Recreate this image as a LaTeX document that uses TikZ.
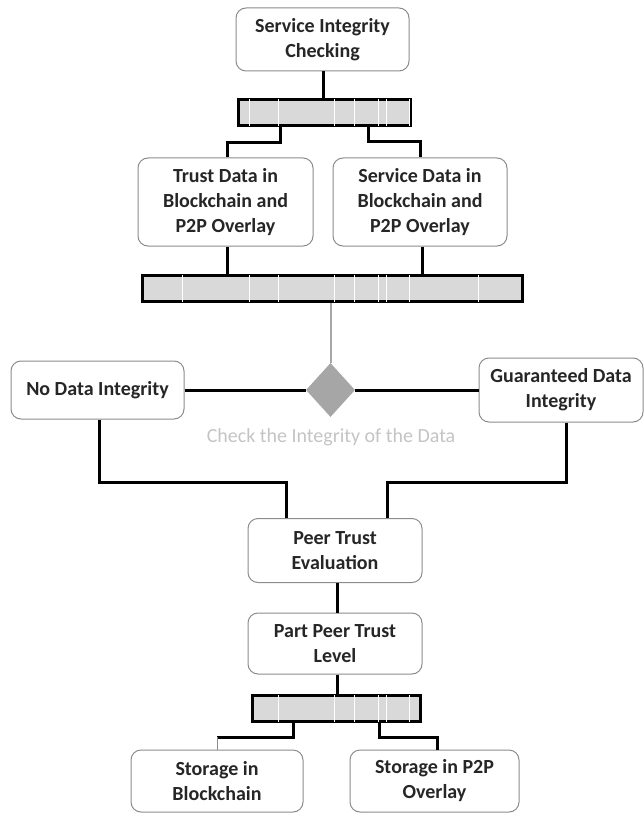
\documentclass[tikz,border=0pt]{standalone}
\usepackage{fontspec}
\setmainfont{Carlito}
\usetikzlibrary{shapes.geometric}
\definecolor{barfill}{HTML}{D9D9D9}
\definecolor{boxline}{HTML}{8C8C8C}
\definecolor{decfill}{HTML}{A6A6A6}
\definecolor{notegray}{HTML}{C4C4C4}

\begin{document}
\begin{tikzpicture}[x=1pt,y=-1pt,
    box/.style={draw=boxline,line width=1pt,rounded corners=10pt,fill=white,
      align=center,inner sep=0pt,text=black!85,font=\fontsize{20}{25}\selectfont\bfseries},
    syncbar/.style={draw=black,line width=3pt,fill=barfill,inner sep=0pt,
      minimum height=26pt},
    link/.style={line width=3pt}]
  \useasboundingbox (0,0) rectangle (644,813);
  % boxes
  \node[box,minimum width=173pt,minimum height=63pt] (check) at (322.5,39.5) {Service Integrity\\Checking};
  \node[box,minimum width=175pt,minimum height=88pt] (trust) at (225.5,202) {Trust Data in\\Blockchain and\\P2P Overlay};
  \node[box,minimum width=174pt,minimum height=88pt] (service) at (420,202) {Service Data in\\Blockchain and\\P2P Overlay};
  \node[box,minimum width=173pt,minimum height=58pt] (nodata) at (97.5,390) {No Data Integrity};
  \node[box,minimum width=164pt,minimum height=64pt] (guar) at (561,390) {Guaranteed Data\\Integrity};
  \node[box,minimum width=174pt,minimum height=64pt] (peer) at (335,550.5) {Peer Trust\\Evaluation};
  \node[box,minimum width=174pt,minimum height=61pt] (part) at (335,643.5) {Part Peer Trust\\Level};
  \node[box,minimum width=172pt,minimum height=62pt] (stblock) at (217,781) {Storage in\\Blockchain};
  \node[box,minimum width=169pt,minimum height=62pt] (stp2p) at (434.5,781) {Storage in P2P\\Overlay};
  % bars
  \node[syncbar,minimum width=172pt] (bar1) at (324.5,112.5) {};
  \node[syncbar,minimum width=380pt] (bar2) at (332.5,288.5) {};
  \node[syncbar,minimum width=168pt] (bar3) at (336.5,708.5) {};
  \foreach \barname in {bar1,bar2,bar3}{
    \begin{scope}
      \clip ([shift={(1.5pt,-1.5pt)}]\barname.north west) rectangle ([shift={(-1.5pt,1.5pt)}]\barname.south east);
      \foreach \x in {182,249,278,334,354,378,386,409,478}
        \draw[white,line width=.8pt] (\x,0) -- (\x,813);
    \end{scope}
  }
  % decision
  \node[diamond,fill=decfill,minimum width=49pt,minimum height=54pt,inner sep=0pt] (dec) at (330.5,390) {};
  \node[text=notegray,font=\fontsize{20}{25}\selectfont] (declabel) at (331,437) {Check the Integrity of the Data};
  % connectors
  \draw[link] (check.south -| 323,0) -- (bar1.north -| 323,0);
  \draw[link] (bar1.south -| 280,0) |- (227,143) -- (trust.north -| 227,0);
  \draw[link] (bar1.south -| 368,0) |- (420,142) -- (service.north);
  \draw[link] (trust.south -| 227,0) -- (bar2.north -| 227,0);
  \draw[link] (service.south -| 422,0) -- (bar2.north -| 422,0);
  \draw[decfill,line width=2pt] (bar2.south -| dec.north) -- (dec.north);
  \draw[link] (nodata.east) -- (dec.west);
  \draw[link] (dec.east) -- (guar.west);
  \draw[link] (nodata.south -| 99,0) |- (286,482) -- (peer.north -| 286,0);
  \draw[link] (guar.south -| 566,0) |- (387,482) -- (peer.north -| 387,0);
  \draw[link] (peer.south -| 337,0) -- (part.north -| 337,0);
  \draw[link] (part.south -| 337,0) -- (bar3.north -| 337,0);
  \draw[link] (bar3.south -| 293,0) |- (217,737);
  \draw[boxline,line width=1pt] (217,737) -- (stblock.north);
  \draw[link] (bar3.south -| 379,0) |- (437,737) -- (stp2p.north -| 437,0);
\end{tikzpicture}
\end{document}
